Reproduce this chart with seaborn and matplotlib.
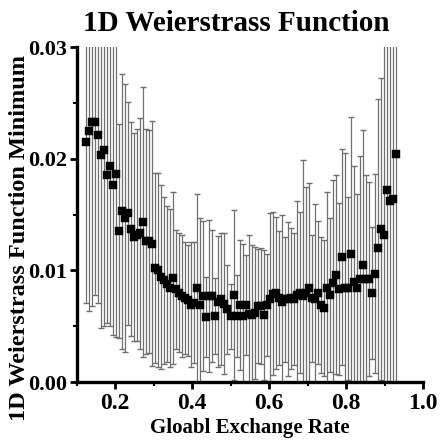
import matplotlib
matplotlib.use("Agg")
import matplotlib.pyplot as plt
import seaborn as sns
import pandas as pd
from matplotlib.ticker import MultipleLocator

exchange_rate = [
    0.125, 0.1328, 0.1406, 0.1484, 0.1563, 0.1641, 0.1719, 0.1797, 0.1875, 0.1953,
    0.2031, 0.2109, 0.2188, 0.2266, 0.2344, 0.2422, 0.25, 0.2578, 0.2656, 0.2734,
    0.2813, 0.2891, 0.2969, 0.3047, 0.3125, 0.3203, 0.3281, 0.3359, 0.3438, 0.3516,
    0.3594, 0.3672, 0.375, 0.3828, 0.3906, 0.3984, 0.4063, 0.4141, 0.4219, 0.4297,
    0.4375, 0.4453, 0.4531, 0.4609, 0.4688, 0.4766, 0.4844, 0.4922, 0.5, 0.5078,
    0.5156, 0.5234, 0.5313, 0.5391, 0.5469, 0.5547, 0.5625, 0.5703, 0.5781, 0.5859,
    0.5938, 0.6016, 0.6094, 0.6172, 0.625, 0.6328, 0.6406, 0.6484, 0.6563, 0.6641,
    0.6719, 0.6797, 0.6875, 0.6953, 0.7031, 0.7109, 0.7188, 0.7266, 0.7344, 0.7422,
    0.75, 0.7578, 0.7656, 0.7734, 0.7813, 0.7891, 0.7969, 0.8047, 0.8125, 0.8203,
    0.8281, 0.8359, 0.8438, 0.8516, 0.8594, 0.8672, 0.875, 0.8828, 0.8906, 0.8984,
    0.9063, 0.9141, 0.9219, 0.9297,
]

minimum_mean = [
    0.0215, 0.0225, 0.0233, 0.0233, 0.0221, 0.0203, 0.0208, 0.0185, 0.0193, 0.0176,
    0.0186, 0.0135, 0.0153, 0.0147, 0.0151, 0.0137, 0.0130, 0.0132, 0.0133, 0.0143,
    0.0126, 0.0126, 0.0124, 0.0102, 0.0100, 0.0094, 0.0091, 0.0088, 0.0084, 0.0093,
    0.0083, 0.0080, 0.0077, 0.0075, 0.0073, 0.0069, 0.0071, 0.0084, 0.0069, 0.0077,
    0.0058, 0.0077, 0.0077, 0.0059, 0.0072, 0.0074, 0.0070, 0.0065, 0.0059, 0.0078,
    0.0059, 0.0069, 0.0059, 0.0069, 0.0061, 0.0060, 0.0062, 0.0068, 0.0068, 0.0060,
    0.0069, 0.0074, 0.0079, 0.0080, 0.0075, 0.0072, 0.0074, 0.0074, 0.0075, 0.0074,
    0.0078, 0.0080, 0.0077, 0.0080, 0.0084, 0.0075, 0.0074, 0.0080, 0.0069, 0.0066,
    0.0084, 0.0078, 0.0089, 0.0096, 0.0083, 0.0112, 0.0084, 0.0084, 0.0115, 0.0090,
    0.0084, 0.0092, 0.0105, 0.0092, 0.0092, 0.0080, 0.0097, 0.0120, 0.0137, 0.0132,
    0.0172, 0.0162, 0.0164, 0.0204,
]

minimum_sd = [
    0.0144, 0.0161, 0.0165, 0.0155, 0.0150, 0.0155, 0.0158, 0.0132, 0.0143, 0.0134,
    0.0146, 0.0096, 0.0123, 0.0120, 0.0100, 0.0096, 0.0093, 0.0095, 0.0103, 0.0121,
    0.0101, 0.0100, 0.0110, 0.0085, 0.0087, 0.0082, 0.0075, 0.0070, 0.0071, 0.0077,
    0.0053, 0.0053, 0.0055, 0.0050, 0.0050, 0.0056, 0.0054, 0.0084, 0.0078, 0.0067,
    0.0036, 0.0068, 0.0059, 0.0034, 0.0059, 0.0059, 0.0063, 0.0040, 0.0029, 0.0076,
    0.0037, 0.0058, 0.0065, 0.0045, 0.0071, 0.0063, 0.0059, 0.0051, 0.0052, 0.0058,
    0.0046, 0.0077, 0.0073, 0.0068, 0.0060, 0.0078, 0.0056, 0.0069, 0.0063, 0.0059,
    0.0084, 0.0072, 0.0122, 0.0095, 0.0094, 0.0057, 0.0085, 0.0064, 0.0061, 0.0061,
    0.0086, 0.0069, 0.0092, 0.0089, 0.0077, 0.0097, 0.0121, 0.0082, 0.0122, 0.0103,
    0.0084, 0.0110, 0.0121, 0.0093, 0.0087, 0.0059, 0.0089, 0.0133, 0.0135, 0.0180,
    0.0200, 0.0190, 0.0210, 0.0230,
]

x_ticks = [0.2, 0.4, 0.6, 0.8, 1.0]
x_tick_labels = ["0.2", "0.4", "0.6", "0.8", "1.0"]
y_ticks = [0.00, 0.01, 0.02, 0.03]
y_tick_labels = ["0.00", "0.01", "0.02", "0.03"]

df = pd.DataFrame({"rate": exchange_rate, "mean": minimum_mean, "sd": minimum_sd})

sns.set_theme(style="ticks")
plt.rcParams["font.family"] = ["Liberation Serif", "DejaVu Serif"]
plt.rcParams["font.weight"] = "bold"
plt.rcParams["text.color"] = "black"
plt.rcParams["axes.labelcolor"] = "black"
plt.rcParams["xtick.color"] = "black"
plt.rcParams["ytick.color"] = "black"
plt.rcParams["xtick.labelcolor"] = "black"
plt.rcParams["ytick.labelcolor"] = "black"

fig = plt.figure(figsize=(4.44, 4.48), dpi=100)
W, H = 444, 448
left, right, top, bottom = 76.5, 423, 47, 382
ax = fig.add_axes([left / W, 1 - bottom / H, (right - left) / W, (bottom - top) / H])

ax.errorbar(df["rate"], df["mean"], yerr=df["sd"], fmt="none",
            ecolor="#707070", elinewidth=0.9, capsize=2.0, capthick=1.0, zorder=2)
sns.scatterplot(data=df, x="rate", y="mean", marker="s", color="black",
                s=32, edgecolor="black", linewidth=0.3, ax=ax, zorder=3)

ax.set_xlim(0.1, 1.0)
ax.set_ylim(0.0, 0.03)
ax.set_xticks(x_ticks)
ax.set_xticklabels(x_tick_labels)
ax.set_yticks(y_ticks)
ax.set_yticklabels(y_tick_labels)
ax.xaxis.set_minor_locator(MultipleLocator(0.1))
ax.yaxis.set_minor_locator(MultipleLocator(0.005))

for side in ["top", "right"]:
    ax.spines[side].set_visible(False)
for side in ["left", "bottom"]:
    ax.spines[side].set_linewidth(2.4)
    ax.spines[side].set_color("black")

ax.tick_params(axis="both", which="major", direction="out", length=5, width=2.0,
               color="black", labelcolor="black", pad=2)
ax.tick_params(axis="both", which="minor", direction="out", length=3, width=1.5,
               color="black")
ax.tick_params(axis="x", labelsize=17, pad=3)
ax.tick_params(axis="y", labelsize=16)
for lab in ax.get_xticklabels() + ax.get_yticklabels():
    lab.set_fontweight("bold")
    lab.set_color("black")

ax.set_xlabel("Gloabl Exchange Rate", fontsize=15, fontweight="bold", color="black")
ax.xaxis.set_label_coords((250 - left) / (right - left), (bottom - 427.5) / (bottom - top))
ax.xaxis.label.set_va("center")
ax.set_ylabel("1D Weierstrass Function Minimum", fontsize=17.5, fontweight="bold",
              color="black")
ax.yaxis.set_label_coords((19.5 - left) / (right - left), (bottom - 238) / (bottom - top))
ax.yaxis.label.set_va("center")
ax.grid(False)

fig.text(236.5 / W, 1 - 10 / H, "1D Weierstrass Function", ha="center", va="top",
         fontsize=21, fontweight="bold", color="black")

fig.savefig("out.png", dpi=100)
